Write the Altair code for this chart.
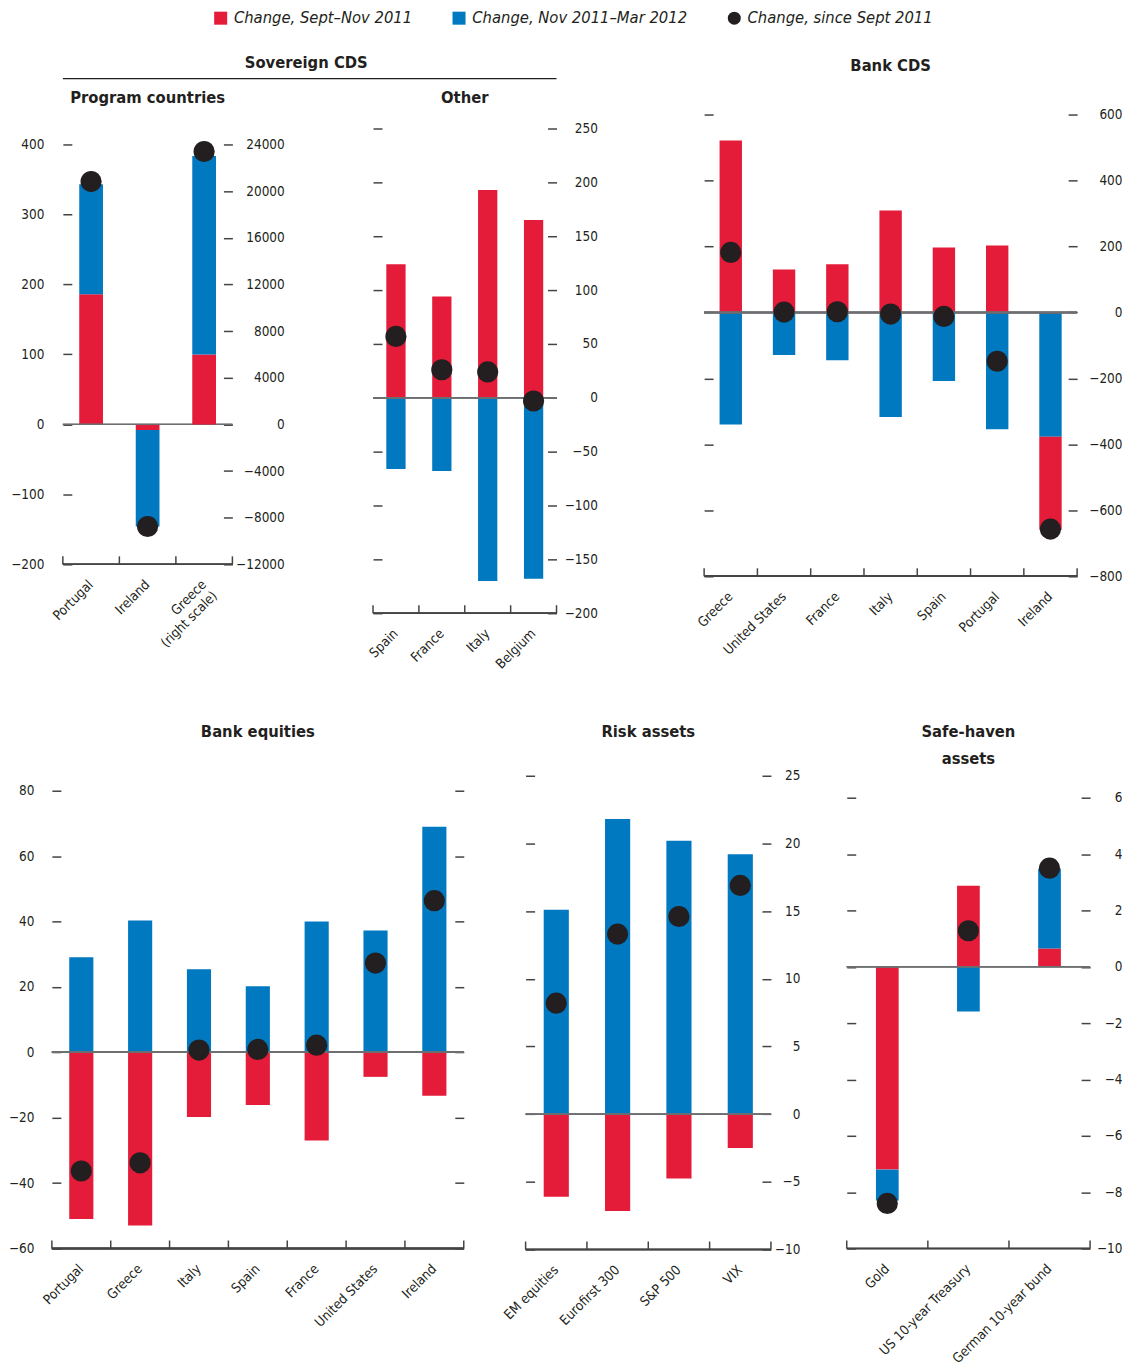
import altair as alt
import pandas as pd

FONT = "Liberation Sans Narrow, DejaVu Sans Condensed, Arial Narrow, sans-serif"
INK = "#231F20"
AX = 13.5
TT = 16.5
RED_LABEL = "Change, Sept–Nov 2011"
BLUE_LABEL = "Change, Nov 2011–Mar 2012"
DOT_LABEL = "Change, since Sept 2011"
SERIES = [RED_LABEL, BLUE_LABEL, DOT_LABEL]
COLORS = ["#E41B39", "#0079C1", "#231F20"]

# ---- data ----
prog_cats = ["Portugal", "Ireland", "Greece (right scale)"]
prog_left_cats = ["Portugal", "Ireland"]
prog_red = [186, -8]
prog_blue = [157, -138]
prog_dot = [347, -146]
greece_cats = ["Greece (right scale)"]
greece_red = [6000]
greece_blue = [17000]
greece_dot = [23400]

other_cats = ["Spain", "France", "Italy", "Belgium"]
other_red = [124, 94, 193, 165]
other_blue = [-66, -68, -170, -168]
other_dot = [57, 26, 24, -3]

bcds_cats = ["Greece", "United States", "France", "Italy", "Spain", "Portugal", "Ireland"]
bcds_red = [521, 130, 146, 309, 197, 203, -282]
bcds_blue = [-340, -129, -145, -317, -208, -354, -377]
bcds_dot = [182, 1, 2, -5, -12, -148, -657]
bcds_blue_first = [False, False, False, False, False, False, True]

beq_cats = ["Portugal", "Greece", "Italy", "Spain", "France", "United States", "Ireland"]
beq_red = [-51, -53, -19.8, -16.1, -27, -7.5, -13.3]
beq_blue = [29.1, 40.3, 25.4, 20.2, 40, 37.3, 69]
beq_dot = [-36.3, -33.8, 0.7, 0.9, 2.2, 27.3, 46.4]

risk_cats = ["EM equities", "Eurofirst 300", "S&P 500", "VIX"]
risk_red = [-6.1, -7.15, -4.75, -2.5]
risk_blue = [15.1, 21.8, 20.2, 19.2]
risk_dot = [8.2, 13.3, 14.6, 16.9]

safe_cats = ["Gold", "US 10-year Treasury", "German 10-year bund"]
safe_red = [-7.2, 2.88, 0.65]
safe_blue = [-1.1, -1.59, 2.83]
safe_dot = [-8.4, 1.28, 3.5]


def stack(cats, red, blue, blue_first=None):
    rows = []
    for i, c in enumerate(cats):
        order = [(RED_LABEL, red[i]), (BLUE_LABEL, blue[i])]
        if blue_first and blue_first[i]:
            order = order[::-1]
        pos = neg = 0.0
        for s, v in order:
            if v >= 0:
                y0, pos = pos, pos + v
                y1 = pos
            else:
                y0, neg = neg, neg + v
                y1 = neg
            rows.append({"cat": c, "series": s, "y0": y0, "y1": y1})
    return pd.DataFrame(rows)


def dots_df(cats, vals):
    return pd.DataFrame({"cat": cats, "series": [DOT_LABEL] * len(cats), "value": vals})


color_enc = alt.Color("series:N", scale=alt.Scale(domain=SERIES, range=COLORS), title=None)
shape_enc = alt.Shape("series:N", scale=alt.Scale(domain=SERIES, range=["square", "square", "circle"]), title=None)


def x_enc(cats, label_expr=None, band_pos=None):
    ax = dict(labelAngle=315, labelAlign="right", labelBaseline="middle", labelPadding=18,
              ticks=False, domain=False, grid=False, labelFont=FONT, labelFontSize=AX,
              labelColor=INK, title=None)
    if label_expr:
        ax["labelExpr"] = label_expr
    kw = dict(scale=alt.Scale(domain=cats, paddingInner=0, paddingOuter=0), axis=alt.Axis(**ax), title=None)
    if band_pos is not None:
        kw["bandPosition"] = band_pos
    return alt.X("cat:N", **kw)


def y_axis(orient, ticks, labels, pad):
    return alt.Axis(orient=orient, values=ticks, offset=-9, tickSize=9, tickWidth=1.5, tickColor="#444",
                    domain=False, grid=False, labels=labels, labelPadding=pad, labelAlign="right",
                    labelFont=FONT, labelFontSize=AX, labelColor=INK, format="d", title=None)


def group(bars, dots, cats, all_cats, domain, axis, band, W, H, draw_base=True, label_expr=None):
    sc = alt.Scale(domain=domain, nice=False, zero=False)
    xe = x_enc(all_cats, label_expr)
    layers = [
        alt.Chart(bars).mark_bar(width=alt.RelativeBandSize(band)).encode(
            x=xe, y=alt.Y("y0:Q", scale=sc, axis=axis, title=None), y2="y1:Q", color=color_enc)
    ]
    if draw_base:
        one = pd.DataFrame({"cat": all_cats})
        layers += [
            alt.Chart(one).mark_rule(color="#6D6E71", strokeWidth=1.5).encode(
                y=alt.datum(0), x=alt.value(0), x2=alt.value(W)),
            alt.Chart(one).mark_rule(color="#444", strokeWidth=1.5).encode(
                y=alt.value(H), x=alt.value(0), x2=alt.value(W)),
            alt.Chart(one).mark_rule(color="#444", strokeWidth=1.5).encode(
                x=x_enc(all_cats, label_expr, band_pos=0), y=alt.value(H), y2=alt.value(H - 8)),
            alt.Chart(one.head(1)).mark_rule(color="#444", strokeWidth=1.5).encode(
                x=alt.value(W), y=alt.value(H), y2=alt.value(H - 8)),
        ]
    layers.append(
        alt.Chart(dots).mark_point(filled=True, size=450, opacity=1, strokeWidth=0).encode(
            x=xe, y=alt.Y("value:Q", scale=sc, axis=axis, title=None), color=color_enc, shape=shape_enc)
    )
    return alt.layer(*layers)


def title(text, offset):
    return alt.TitleParams(text=text, font=FONT, fontSize=TT, fontWeight="bold", color=INK,
                           offset=offset, anchor="middle", lineHeight=27)


def panel(cats, red, blue, dot, domain, ticks, W, H, band, left_labels, right_labels,
          lpad, rpad, ttl, toff, blue_first=None):
    bars = stack(cats, red, blue, blue_first)
    dots = dots_df(cats, dot)
    left = group(bars, dots, cats, cats, domain, y_axis("left", ticks, left_labels, lpad), band, W, H)
    right = alt.Chart(dots).mark_point(opacity=0).encode(
        x=x_enc(cats),
        y=alt.Y("value:Q", scale=alt.Scale(domain=domain, nice=False, zero=False),
                axis=y_axis("right", ticks, right_labels, rpad), title=None))
    return alt.layer(left, right).resolve_scale(y="independent").properties(
        width=W, height=H, title=title(ttl, toff))


# ---- Program countries (dual scale) ----
PW, PH = 170, 451
greece_expr = "datum.label == 'Greece (right scale)' ? ['Greece', '(right scale)'] : datum.label"
p_left = group(stack(prog_left_cats, prog_red, prog_blue), dots_df(prog_left_cats, prog_dot),
               prog_left_cats, prog_cats, [-200, 442.75],
               y_axis("left", [-200, -100, 0, 100, 200, 300, 400], True, 19), 0.42, PW, PH,
               label_expr=greece_expr)
hdr = pd.DataFrame({"t": ["Sovereign CDS"], "s": ["Program countries"]})
p_hdr = alt.Chart(hdr).mark_text(font=FONT, fontSize=TT, fontWeight="bold", color=INK).encode(
    text="t:N", x=alt.value(244), y=alt.value(-52))
p_sub = alt.Chart(hdr).mark_text(font=FONT, fontSize=TT, fontWeight="bold", color=INK).encode(
    text="s:N", x=alt.value(PW / 2), y=alt.value(-17))
p_line = alt.Chart(hdr).mark_rule(color=INK, strokeWidth=1.2).encode(
    x=alt.value(0), x2=alt.value(495), y=alt.value(-36))
p_right = group(stack(greece_cats, greece_red, greece_blue), dots_df(greece_cats, greece_dot),
                greece_cats, prog_cats, [-12000, 26565],
                y_axis("right", [-12000, -8000, -4000, 0, 4000, 8000, 12000, 16000, 20000, 24000], True, 52),
                0.42, PW, PH, draw_base=False, label_expr=greece_expr)
program = alt.layer(alt.layer(p_left, p_hdr, p_sub, p_line), p_right).resolve_scale(
    y="independent").properties(width=PW, height=PH)

other = panel(other_cats, other_red, other_blue, other_dot, [-200, 263], list(range(-200, 251, 50)),
              184, 500, 0.42, False, True, 19, 41, "Other", 8)
bcds = panel(bcds_cats, bcds_red, bcds_blue, bcds_dot, [-800, 600], list(range(-800, 601, 200)),
             374, 463, 0.42, False, True, 19, 45, "Bank CDS", 33, blue_first=bcds_blue_first)
beq = panel(beq_cats, beq_red, beq_blue, beq_dot, [-60, 84.6], list(range(-60, 81, 20)),
            413, 474, 0.41, True, False, 18, 20, "Bank equities", 35)
risk = panel(risk_cats, risk_red, risk_blue, risk_dot, [-10, 25], list(range(-10, 26, 5)),
             246, 475, 0.41, False, True, 18, 29, "Risk assets", 28)
safe = panel(safe_cats, safe_red, safe_blue, safe_dot, [-10, 6.78], list(range(-10, 7, 2)),
             244, 474, 0.28, False, True, 18, 32, ["Safe-haven", "assets"], 8)


def spacer(w):
    return alt.Chart(pd.DataFrame({"a": [0]})).mark_point(opacity=0).encode(
        x=alt.value(0), y=alt.value(0)).properties(width=w, height=1)


top = alt.hconcat(spacer(11), program, spacer(141), other, spacer(148), bcds, spacing=0, bounds="flush")
bottom = alt.hconcat(beq, spacer(62), risk, spacer(76), safe, spacing=0, bounds="flush")

chart = alt.vconcat(top, bottom, spacing=53).properties(padding=0).configure_view(
    stroke=None
).configure_legend(
    orient="none", legendX=161, legendY=-105, direction="horizontal", title=None, padding=0,
    labelFont=FONT, labelFontSize=TT, labelFontStyle="italic", labelColor=INK, labelLimit=0,
    symbolSize=170, labelOffset=5, columnPadding=38, symbolStrokeWidth=0
)

chart.save("out.html", embed_options={"renderer": "svg", "actions": False})
